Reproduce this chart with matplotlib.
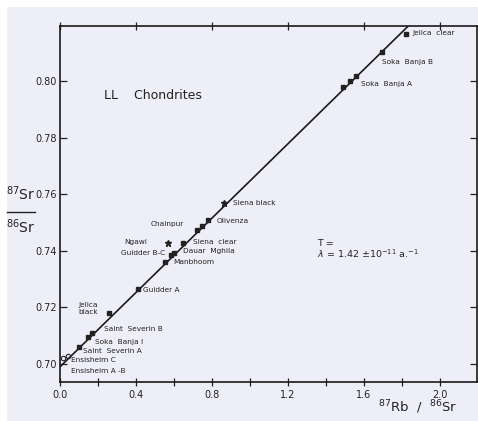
import matplotlib
matplotlib.use("Agg")
import matplotlib.pyplot as plt
from matplotlib.lines import Line2D
from matplotlib.patches import Rectangle
import numpy as np

# ---- data ----
names = ["Ensisheim C", "Ensisheim A-B", "Saint Severin A", "Soka Banja I",
         "Saint Severin B", "Jelica black", "Guidder A", "Manbhoom",
         "Guidder B-C", "Dauar Mghila", "Siena clear", "Ngawi",
         "Chainpur 1", "Chainpur 2", "Olivenza", "Siena black",
         "Soka Banja A1", "Soka Banja A2", "Soka Banja A3",
         "Soka Banja B", "Jelica clear"]
rb_sr = [0.015, 0.040, 0.100, 0.147, 0.170, 0.260, 0.410, 0.555,
         0.585, 0.600, 0.645, 0.570, 0.720, 0.745, 0.780, 0.863,
         1.490, 1.526, 1.556, 1.693, 1.820]
sr_sr = [0.7022, 0.7027, 0.7061, 0.7094, 0.7108, 0.7179, 0.7264, 0.7360,
         0.7386, 0.7393, 0.7428, 0.7427, 0.7474, 0.7486, 0.7508, 0.7568,
         0.7978, 0.8001, 0.8018, 0.8104, 0.8165]
markers = ["o", "o", "s", "s", "s", "s", "s", "s",
           "s", "s", "s", "*", "s", "s", "s", "*",
           "s", "s", "s", "s", "s"]

# isochron parameters
intercept = 0.699
slope = 0.0657

# labels: text, x, y, ha
label_text = ["Jelica  clear", "Soka  Banja B", "Soka  Banja A", "Siena black",
              "Olivenza", "Chainpur", "Ngawi", "Siena  clear", "Dauar  Mghila",
              "Guidder B-C", "Manbhoom", "Guidder A", "Jelica\nblack",
              "Saint  Severin B", "Soka  Banja I", "Saint  Severin A",
              "Ensisheim C", "Ensisheim A -B"]
label_x = [1.853, 1.695, 1.584, 0.911, 0.826, 0.653, 0.458, 0.700, 0.647,
           0.553, 0.595, 0.437, 0.150, 0.232, 0.184, 0.121, 0.058, 0.058]
label_y = [0.8170, 0.8067, 0.7989, 0.7569, 0.7505, 0.7495, 0.7431, 0.7431,
           0.7399, 0.7392, 0.7360, 0.7261, 0.7196, 0.7124, 0.7078, 0.7046,
           0.7014, 0.6975]
label_ha = ["left", "left", "left", "left", "left", "right", "right", "left",
            "left", "right", "left", "left", "center", "left", "left", "left",
            "left", "left"]

xticks_major = [0.0, 0.4, 0.8, 1.2, 1.6, 2.0]
xtick_labels = ["0.0", "0.4", "0.8", "1.2", "1.6", "2.0"]
yticks = [0.70, 0.72, 0.74, 0.76, 0.78, 0.80]
ytick_labels = ["0.70", "0.72", "0.74", "0.76", "0.78", "0.80"]

W, H = 478, 421
fig = plt.figure(figsize=(W / 100, H / 100), dpi=100)
fig.patch.set_facecolor("white")
bg = "#eeeef8"
fig.patches.append(Rectangle((7 / W, 0), 1, 1 - 7 / H, transform=fig.transFigure,
                             facecolor=bg, edgecolor="none", zorder=-10))

ax = fig.add_axes([60 / W, 1 - 382 / H, 417 / W, 356 / H])
ax.set_facecolor(bg)
ax.set_xlim(0, 2.1947)
ax.set_ylim(0.69364, 0.81943)

# isochron line
xl = np.linspace(0, 2.2, 50)
ax.plot(xl, intercept + slope * xl, color="#1a1a1a", lw=1.2, zorder=2)

for x, y, m in zip(rb_sr, sr_sr, markers):
    if m == "o":
        ax.plot(x, y, marker="o", ms=3.2, mfc="none", mec="#222222", mew=0.8, zorder=3)
    elif m == "*":
        ax.plot(x, y, marker="*", ms=4.5, color="#222222", zorder=3)
    else:
        ax.plot(x, y, marker="s", ms=2.8, color="#222222", zorder=3)

for t, x, y, ha in zip(label_text, label_x, label_y, label_ha):
    ax.text(x, y, t, ha=ha, va="center", fontsize=5.3, color="#222222",
            linespacing=1.2)

ax.text(0.232, 0.7947, "LL    Chondrites", fontsize=9, color="#222222", va="center")
ax.text(1.353, 0.7425, "T =", fontsize=6.8, color="#222222", va="center")
ax.text(1.353, 0.7390, r"$\lambda$ = 1.42 $\pm$10$^{-11}$ a.$^{-1}$", fontsize=6.8,
        color="#222222", va="center")

for s in ax.spines.values():
    s.set_linewidth(1.2)
    s.set_color("#1a1a1a")

ax.set_xticks(xticks_major)
ax.set_xticklabels(xtick_labels)
ax.set_xticks(np.arange(0.2, 2.2, 0.4), minor=True)
ax.set_yticks(yticks)
ax.set_yticklabels(ytick_labels)
ax.tick_params(axis="x", which="both", direction="inout", length=6, width=0.9,
               labelsize=7, pad=2.5, top=True, colors="#222222")
ax.tick_params(axis="x", which="minor", top=False)
ax.tick_params(axis="y", direction="in", length=5, width=0.9, labelsize=7,
               pad=2, right=True, colors="#222222")

# y label as a fraction
fig.text(21 / W, 1 - 194 / H, r"$^{87}$Sr", fontsize=10, ha="center", va="center",
         color="#222222")
fig.lines.append(Line2D([7 / W, 35 / W], [1 - 212 / H, 1 - 212 / H],
                        transform=fig.transFigure, color="#222222", lw=1.0))
fig.text(21 / W, 1 - 227 / H, r"$^{86}$Sr", fontsize=10, ha="center", va="center",
         color="#222222")

# x label
fig.text(418 / W, 1 - 407 / H, r"$^{87}$Rb  /  $^{86}$Sr", fontsize=9.5,
         ha="center", va="center", color="#222222")

fig.savefig("out.png", dpi=100, facecolor=fig.get_facecolor())
